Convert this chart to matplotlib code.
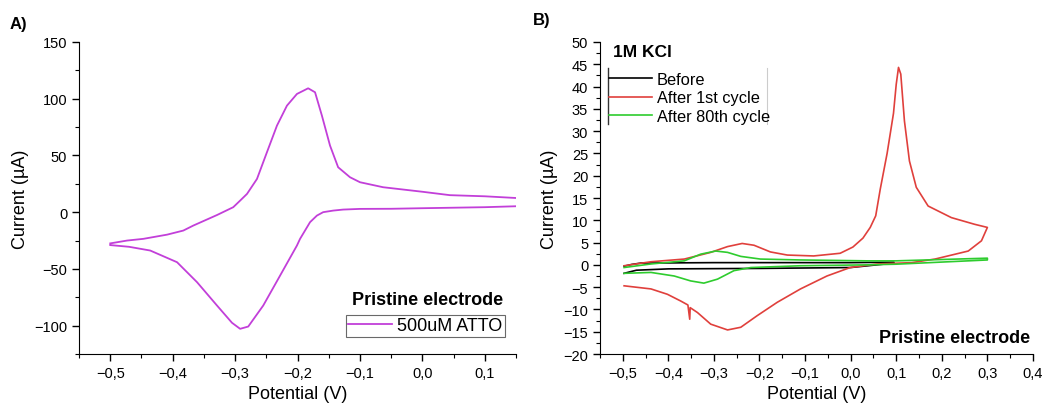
import numpy as np
import matplotlib
matplotlib.use("Agg")
import matplotlib.pyplot as plt
from matplotlib.ticker import MultipleLocator, FuncFormatter
from matplotlib.lines import Line2D

plt.rcParams['font.family'] = ['Liberation Sans', 'DejaVu Sans']

# panel A: 500uM ATTO, one cycle (forward then reverse)
atto_e = [-0.500, -0.473, -0.447, -0.409, -0.383, -0.367, -0.329, -0.303, -0.292,
          -0.281, -0.265, -0.249, -0.233, -0.217, -0.201, -0.183, -0.172, -0.161,
          -0.148, -0.135, -0.116, -0.100, -0.063, 0.000, 0.044, 0.100, 0.160,
          0.160, 0.100, 0.000, -0.050, -0.100, -0.127, -0.143, -0.159, -0.169,
          -0.180, -0.196, -0.201, -0.228, -0.255, -0.279, -0.292, -0.305, -0.329,
          -0.361, -0.393, -0.436, -0.470, -0.500]
atto_i = [-27.5, -25.0, -23.5, -19.8, -16.2, -11.8, -2.5, 4.4, 10.2,
          16.1, 29.3, 52.9, 76.3, 93.9, 104.2, 109.2, 105.7, 85.1,
          58.7, 39.6, 30.8, 26.4, 22, 18, 15, 14, 12.2,
          5.4, 4.4, 3.5, 3.0, 2.9, 2.3, 1.4, 0, -3,
          -8.8, -23.5, -29.4, -55.9, -82.3, -100.8, -102.8, -97.5, -82.3,
          -61.7, -44.1, -33.8, -30.5, -29]

# panel B: 1M KCl
before_e = [-0.497, -0.480, -0.460, -0.300, 0.000, 0.095,
            0.095, 0.000, -0.200, -0.400, -0.470, -0.497]
before_i = [-0.3, 0.1, 0.4, 0.5, 0.5, 0.6,
            0.4, -0.6, -0.8, -0.9, -1.2, -1.9]

first_e = [-0.497, -0.438, -0.365, -0.307, -0.270, -0.238, -0.212, -0.176, -0.139,
           -0.081, -0.023, 0.005, 0.027, 0.043, 0.055, 0.065, 0.080, 0.094, 0.100,
           0.105, 0.110, 0.118, 0.129, 0.144, 0.170, 0.221, 0.272, 0.300,
           0.287, 0.258, 0.185, 0.134, 0.058, -0.001, -0.052, -0.110, -0.161,
           -0.205, -0.241, -0.270, -0.307, -0.336, -0.352, -0.353, -0.357,
           -0.373, -0.402, -0.438, -0.497]
first_i = [-0.2, 0.7, 1.3, 2.8, 4.1, 4.8, 4.4, 2.9, 2.2,
           2.0, 2.6, 4.0, 6.0, 8.4, 11.0, 17.0, 25.0, 34.0, 40.5,
           44.3, 42.8, 32.3, 23.3, 17.4, 13.2, 10.6, 9.1, 8.4,
           5.4, 3.1, 1.3, 0.5, 0.2, -0.6, -2.5, -5.4, -8.4,
           -11.4, -14.0, -14.6, -13.3, -10.7, -9.6, -12.2, -9.0,
           -8.1, -6.6, -5.4, -4.7]

eighty_e = [-0.497, -0.438, -0.365, -0.329, -0.296, -0.270, -0.241, -0.198,
            -0.110, 0.036, 0.100, 0.300,
            0.300, 0.100, 0.036, -0.110, -0.219, -0.256, -0.292, -0.322, -0.351,
            -0.387, -0.438, -0.497]
eighty_i = [-0.6, 0.2, 0.9, 2.4, 3.1, 2.8, 1.9, 1.3,
            1.1, 0.9, 0.9, 1.5,
            1.1, 0.15, 0.0, -0.2, -0.6, -1.3, -3.2, -4.1, -3.6,
            -2.5, -1.7, -1.9]


def comma_fmt(dec):
    def f(v, pos):
        s = f"{v:.{dec}f}".replace('.', ',')
        if s.startswith('-'):
            s = '\u2212' + s[1:]
        return s
    return FuncFormatter(f)


def style_axes(ax, xlim, ylim, ymaj, ymin_):
    ax.set_xlim(*xlim)
    ax.set_ylim(*ylim)
    ax.spines['top'].set_visible(False)
    ax.spines['right'].set_visible(False)
    ax.xaxis.set_major_locator(MultipleLocator(0.1))
    ax.xaxis.set_minor_locator(MultipleLocator(0.05))
    ax.yaxis.set_major_locator(MultipleLocator(ymaj))
    ax.yaxis.set_minor_locator(MultipleLocator(ymin_))
    ax.xaxis.set_major_formatter(comma_fmt(1))
    ax.yaxis.set_major_formatter(comma_fmt(0))
    ax.tick_params(which='major', direction='out', length=5, width=1, labelsize=10.5)
    ax.tick_params(which='minor', direction='out', length=3, width=0.8)
    ax.set_xlabel('Potential (V)', fontsize=13)
    ax.set_ylabel('Current (\u00b5A)', fontsize=13)


fig = plt.figure(figsize=(10.47, 4.06), dpi=100)
axA = fig.add_axes([0.0755, 0.1256, 0.4174, 0.7685])
axB = fig.add_axes([0.573, 0.1256, 0.4136, 0.7685])

# A
axA.plot(atto_e, atto_i, color='#c23fd9', lw=1.3, label='500uM ATTO')
style_axes(axA, (-0.55, 0.15), (-125, 150), 50, 25)
axA.text(0.970, 0.174, 'Pristine electrode', transform=axA.transAxes,
         ha='right', va='center', fontsize=13, fontweight='bold')
legA = axA.legend(loc='lower right', bbox_to_anchor=(0.975, 0.054), borderaxespad=0,
                  fontsize=13, frameon=True, fancybox=False, handlelength=2.4,
                  borderpad=0.15, handletextpad=0.3)
legA.get_frame().set_edgecolor('#444444')
legA.get_frame().set_linewidth(0.8)

# B
axB.plot(before_e, before_i, color='black', lw=1.2, label='Before')
axB.plot(first_e, first_i, color='#e0403c', lw=1.2, label='After 1st cycle')
axB.plot(eighty_e, eighty_i, color='#2ecc2e', lw=1.2, label='After 80th cycle')
style_axes(axB, (-0.55, 0.4), (-20, 50), 5, 2.5)
axB.text(0.03, 0.968, '1M KCl', transform=axB.transAxes, ha='left', va='center',
         fontsize=12.5, fontweight='bold')
axB.text(0.993, 0.0545, 'Pristine electrode', transform=axB.transAxes,
         ha='right', va='center', fontsize=13, fontweight='bold')
axB.legend(loc='upper left', bbox_to_anchor=(0.018, 0.909), borderaxespad=0,
           fontsize=11.8, frameon=False, handlelength=2.6, borderpad=0.1,
           handletextpad=0.3, labelspacing=0.2)
axB.add_line(Line2D([0.018, 0.018], [0.737, 0.917], transform=axB.transAxes,
                    color='#333333', lw=1))
axB.add_line(Line2D([0.386, 0.386], [0.737, 0.917], transform=axB.transAxes,
                    color='#cccccc', lw=0.8))

fig.text(10 / 1047, 1 - 25 / 406, 'A)', fontsize=12, fontweight='bold', va='center')
fig.text(533 / 1047, 1 - 20 / 406, 'B)', fontsize=12, fontweight='bold', va='center')

fig.savefig('out.png', dpi=100)
